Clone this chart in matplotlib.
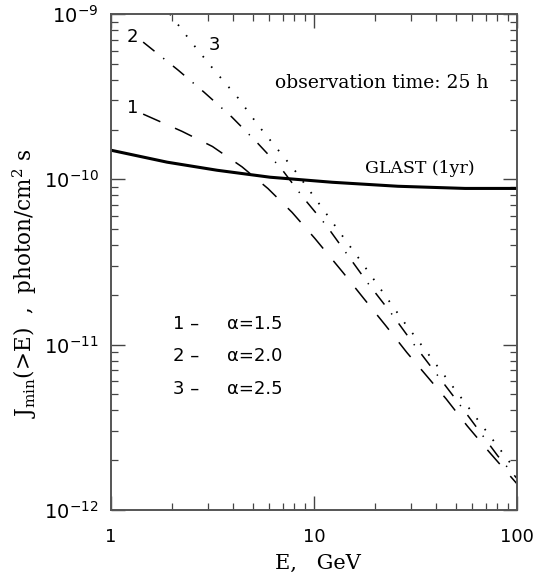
import numpy as np
import matplotlib
matplotlib.use("Agg")
import matplotlib.pyplot as plt
from matplotlib.ticker import FixedLocator, LogLocator, NullFormatter

# values (E in GeV, J in photon/cm^2/s)
glast_E = [1.0, 1.89, 3.33, 6.07, 12.3, 25.9, 55.5, 100.0]
glast_J = [1.50e-10, 1.27e-10, 1.135e-10, 1.03e-10, 9.6e-11, 9.08e-11, 8.81e-11, 8.81e-11]

c1_E = [1.44, 2.24, 3.16, 4.42, 5.93, 7.80, 10.1, 13.9, 17.6, 22.6, 28.7, 44.7, 56.8, 72.8, 100.0]
c1_J = [2.48e-10, 1.95e-10, 1.58e-10, 1.19e-10, 8.8e-11, 6.31e-11, 4.39e-11, 2.73e-11, 1.90e-11,
        1.30e-11, 8.95e-12, 4.71e-12, 3.23e-12, 2.25e-12, 1.44e-12]

c2_E = [1.44, 2.14, 2.87, 3.94, 5.24, 6.87, 8.83, 11.5, 18.5, 23.9, 30.4, 50.1, 63.5, 80.5, 100.0]
c2_J = [6.76e-10, 4.58e-10, 3.37e-10, 2.38e-10, 1.67e-10, 1.17e-10, 7.78e-11, 5.26e-11,
        2.34e-11, 1.56e-11, 1.04e-11, 4.65e-12, 3.14e-12, 2.12e-12, 1.55e-12]

c3_E = [1.95, 2.51, 3.25, 4.23, 5.36, 8.24, 13.4, 17.2, 27.4, 35.2, 100.0]
c3_J = [1.0e-9, 6.67e-10, 4.52e-10, 3.10e-10, 2.09e-10, 1.09e-10, 4.78e-11, 3.14e-11,
        1.40e-11, 9.33e-12, 1.70e-12]

x_ticks = [1, 10, 100]
x_ticklabels = ["1", "10", "100"]
y_ticks = [1e-12, 1e-11, 1e-10, 1e-9]
y_ticklabels = [r"$\mathsf{10^{-12}}$", r"$\mathsf{10^{-11}}$",
                r"$\mathsf{10^{-10}}$", r"$\mathsf{10^{-9}}$"]

plt.rcParams["mathtext.fontset"] = "dejavuserif"
plt.rcParams["font.family"] = "DejaVu Serif"

fig = plt.figure(figsize=(5.35, 5.81), dpi=100)
ax = fig.add_axes([111 / 535, 1 - 510 / 581, (517 - 111) / 535, (510 - 14) / 581])
ax.set_xscale("log")
ax.set_yscale("log")
ax.set_xlim(1, 100)
ax.set_ylim(1e-12, 1e-9)

ax.plot(glast_E, glast_J, color="black", lw=2.2, solid_capstyle="butt")
ax.plot(c1_E, c1_J, color="black", lw=1.1, linestyle=(0, (12.3, 10.5)), dash_capstyle="butt")
ax.plot(c2_E, c2_J, color="black", lw=1.1, linestyle=(0, (9.5, 7.3, 0.9, 7.3)), dash_capstyle="butt")
ax.plot(c3_E, c3_J, color="black", lw=1.3, linestyle=(0, (0.9, 6.5)), dash_capstyle="butt")

# ticks on all four sides, pointing in
ax.xaxis.set_major_locator(FixedLocator(x_ticks))
ax.xaxis.set_minor_locator(LogLocator(base=10, subs=np.arange(2, 10)))
ax.xaxis.set_minor_formatter(NullFormatter())
ax.yaxis.set_major_locator(FixedLocator(y_ticks))
ax.yaxis.set_minor_locator(LogLocator(base=10, subs=np.arange(2, 10)))
ax.yaxis.set_minor_formatter(NullFormatter())
ax.set_xticklabels(x_ticklabels, family="DejaVu Sans", fontsize=13)
ax.set_yticklabels(y_ticklabels, fontsize=14)
ax.tick_params(which="both", direction="in", top=True, right=True, color="#444444")
ax.tick_params(axis="x", which="major", pad=13)
ax.tick_params(axis="y", which="major", pad=9)
ax.tick_params(which="major", length=10, width=1.0)
ax.tick_params(which="minor", length=5, width=0.9)
for sp in ax.spines.values():
    sp.set_linewidth(1.4)
    sp.set_color("#555555")

# curve labels
sans = "DejaVu Sans"
ax.text(1.28, 7.26e-10, "2", family=sans, fontsize=13, ha="center", va="center")
ax.text(1.28, 2.69e-10, "1", family=sans, fontsize=13, ha="center", va="center")
ax.text(3.22, 6.48e-10, "3", family=sans, fontsize=13, ha="center", va="center")

ax.text(6.43, 3.82e-10, "observation time: 25 h", fontsize=13.5, ha="left", va="center")
ax.text(17.8, 1.17e-10, "GLAST (1yr)", fontsize=12.5, ha="left", va="center")

legend_y = [1.34e-11, 8.57e-12, 5.41e-12]
legend_txt = ["1 \u2013", "2 \u2013", "3 \u2013"]
legend_alpha = ["\u03b1=1.5", "\u03b1=2.0", "\u03b1=2.5"]
for yy, t1, t2 in zip(legend_y, legend_txt, legend_alpha):
    ax.text(2.02, yy, t1, family=sans, fontsize=13, ha="left", va="center")
    ax.text(3.73, yy, t2, family=sans, fontsize=13, ha="left", va="center")

fig.text(318 / 535, 1 - 563 / 581, "E,   GeV", fontsize=15, ha="center", va="center")
fig.text(25 / 535, 1 - 283 / 581, r"J$_{\rm min}$(>E)  ,  photon/cm$^2$ s", fontsize=15.5,
         rotation=90, ha="center", va="center")

fig.savefig("out.png", dpi=100)
